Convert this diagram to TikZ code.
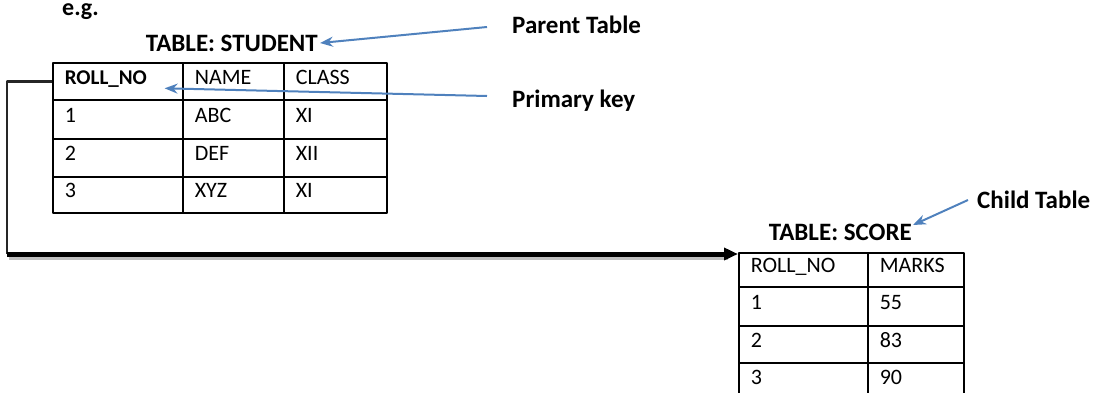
\documentclass[tikz,border=0pt]{standalone}
\usepackage{fontspec}
\setmainfont{Carlito}
\usetikzlibrary{arrows.meta,calc,positioning}
\definecolor{keyblue}{RGB}{79,129,189}
\begin{document}
\begin{tikzpicture}[x=1pt, y=-1pt, line join=round,
  cell/.style={draw, line width=1.6pt, anchor=north west, inner xsep=12pt, inner ysep=0pt,
    align=left, text height=14pt, text depth=8pt, font=\fontsize{22}{25}\selectfont},
  hcell/.style={cell, font=\fontsize{21}{24}\selectfont\bfseries},
  lbl/.style={inner sep=0pt, font=\fontsize{25}{29}\selectfont\bfseries},
  pointer/.style={keyblue, line width=2pt, -{Stealth[length=13pt,width=10pt]}}]
\useasboundingbox (0,0) rectangle (1106,392);
% titles and labels
\node[lbl, anchor=west, font=\fontsize{24}{28}\selectfont\bfseries] (eg) at (62,12) {e.g.};
\node[lbl, anchor=east] (stitle) at (318,43) {TABLE: STUDENT};
\node[lbl, anchor=west] (parent) at (512,25) {Parent Table};
\node[lbl, anchor=west] (pkey) at (512,101) {Primary key};
\node[lbl, anchor=west] (child) at (977,200) {Child Table};
\node[lbl, anchor=east] (ctitle) at (912,232) {TABLE: SCORE};
% table STUDENT
\node[hcell, text width=106pt, minimum height=37pt] (s-0-1) at (52,62)  {ROLL\_NO};
\node[cell,  text width=77pt,  minimum height=37pt] (s-0-2) at (182,62) {NAME};
\node[cell,  text width=79pt,  minimum height=37pt] (s-0-3) at (283,62) {CLASS};
\foreach \r/\y/\h/\a/\b/\c in {1/99/39pt/1/ABC/XI, 2/138/38pt/2/DEF/XII, 3/176/36pt/3/XYZ/XI}{
  \node[cell, text width=106pt, minimum height=\h] (s-\r-1) at (52,\y)  {\a};
  \node[cell, text width=77pt,  minimum height=\h] (s-\r-2) at (182,\y) {\b};
  \node[cell, text width=79pt,  minimum height=\h] (s-\r-3) at (283,\y) {\c};
}
% table SCORE (last row runs past the lower edge)
\node[cell, text width=105pt, minimum height=34pt] (c-0-1) at (738,252) {ROLL\_NO};
\node[cell, text width=72pt,  minimum height=34pt] (c-0-2) at (867,252) {MARKS};
\foreach \r/\y/\h/\a/\b in {1/286/39pt/1/55, 2/325/37pt/2/83, 3/362/37pt/3/90}{
  \node[cell, text width=105pt, minimum height=\h] (c-\r-1) at (738,\y) {\a};
  \node[cell, text width=72pt,  minimum height=\h] (c-\r-2) at (867,\y) {\b};
}
% pointers
\coordinate (pt-tail) at (487,27);
\coordinate (pk-tail) at (487,96);
\coordinate (pk-tip) at ($(s-0-1.east)+(-19,7)$);
\coordinate (ct-tail) at (968,200);
\coordinate (ct-tip) at ($(ctitle.east)+(1,-7)$);
\draw[pointer] (pt-tail) -- ($(stitle.east)+(2,0)$);
\draw[pointer] (pk-tail) -- (pk-tip);
\draw[pointer] (ct-tail) -- (ct-tip);
% foreign key link
\coordinate (bend) at (7,254);
\draw[black!25, line width=5pt] ($(bend)+(2,3)$) -- ($(c-0-1.north west)+(-10,5)$);
\draw[black!85, line width=2.5pt] (s-0-1.west) -| (bend);
\draw[line width=5pt, -{Triangle[length=14pt,width=12pt]}] (bend) -- ($(c-0-1.north west)+(0,2)$);
\end{tikzpicture}
\end{document}
